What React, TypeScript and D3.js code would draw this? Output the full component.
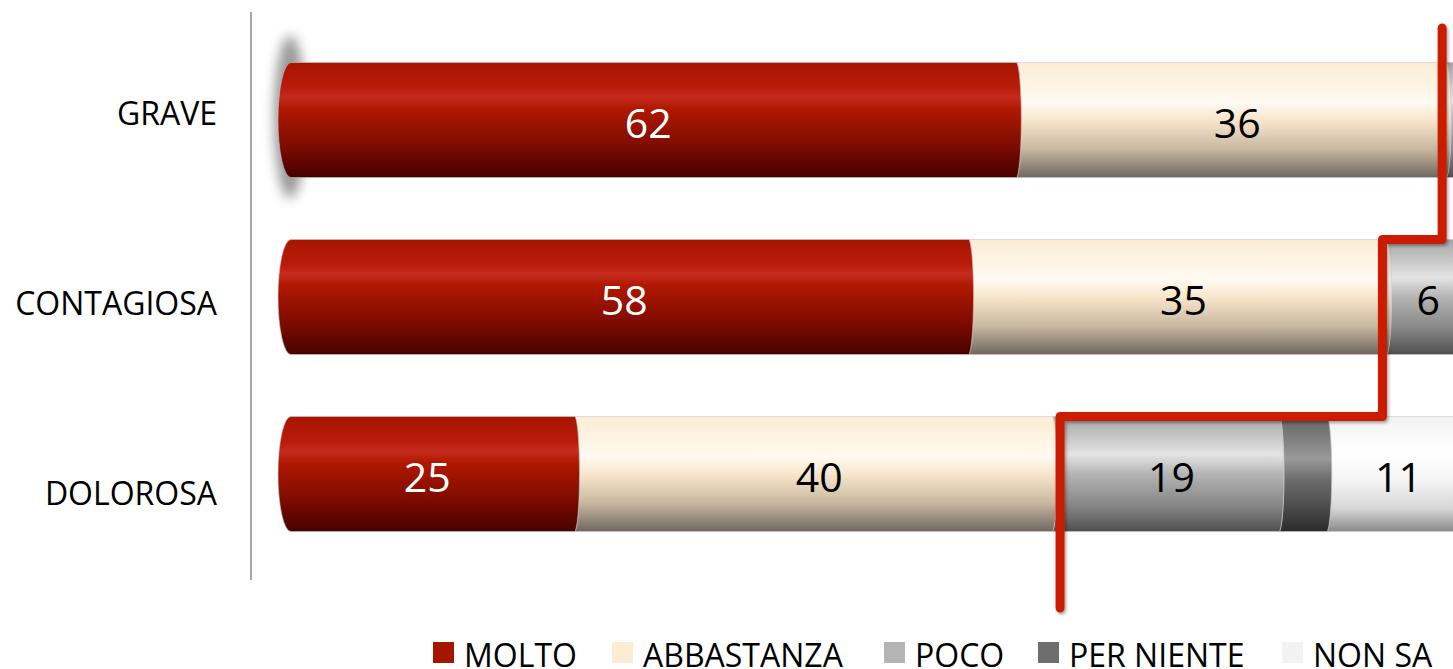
import React from 'react';
import * as d3 from 'd3';

// values (percent)
const categories = ['GRAVE', 'CONTAGIOSA', 'DOLOROSA'];
const molto = [62, 58, 25];
const abbastanza = [36, 35, 40];
const poco = [2, 6, 19];
const perNiente = [0, 1, 4];
const nonSa = [0, 0, 11];
// where the red divider crosses each bar
const dividerAt = [97.5, 92.5, 65.5];

const seriesNames = ['MOLTO', 'ABBASTANZA', 'POCO', 'PER NIENTE', 'NON SA'];
const seriesValues = [molto, abbastanza, poco, perNiente, nonSa];
// the original leaves the PER NIENTE slices unlabelled
const showLabel = [true, true, true, false, true];

const W = 1453;
const H = 669;
const FONT = '"Open Sans", "Noto Sans", sans-serif';

const grads = [
  { id: 'g0', stops: [[0, '#a81500'], [0.22, '#b81c0a'], [0.3, '#c52c1f'], [0.4, '#b01800'], [0.7, '#820c00'], [1, '#460200']] },
  { id: 'g1', stops: [[0, '#fbecd4'], [0.25, '#fff6e8'], [0.35, '#fffaf2'], [0.5, '#f8e6cc'], [0.75, '#c9b8a1'], [1, '#6f675f']] },
  { id: 'g2', stops: [[0, '#a6a6a6'], [0.25, '#d4d4d4'], [0.33, '#e4e4e4'], [0.5, '#b4b4b4'], [0.78, '#858585'], [1, '#4f4f4f']] },
  { id: 'g3', stops: [[0, '#646464'], [0.28, '#8c8c8c'], [0.36, '#9a9a9a'], [0.55, '#6c6c6c'], [0.8, '#4a4a4a'], [1, '#2b2b2b']] },
  { id: 'g4', stops: [[0, '#f2f2f2'], [0.3, '#ffffff'], [0.55, '#f6f6f6'], [0.8, '#d6d6d6'], [1, '#8a8a8a']] },
];
const swatch = ['#a61500', '#fdebd3', '#b4b4b4', '#6e6e6e', '#f2f2f2'];
const labelColor = ['#ffffff', '#000000', '#000000', '#000000', '#000000'];
const legendX = [433, 612, 884, 1038, 1282];

const x = d3.scaleLinear().domain([0, 100]).range([278, 278 + 1194]);
const y = d3
  .scaleBand<string>()
  .domain(categories)
  .range([31.5, 562.5])
  .paddingInner(0.35)
  .paddingOuter(0.175);
const labelY = d3.scalePoint<string>().domain(categories).range([112, 492]);

const CAP = 13; // left end of the cylinder
const RI = 5; // inner joints

function segPath(x0: number, x1: number, top: number, h: number, first: boolean) {
  const ry = h / 2;
  const bottom = top + h;
  const right = x1 - 2;
  const left = first ? x0 + CAP : x0 - 2;
  const p = d3.path();
  p.moveTo(left, top);
  p.lineTo(right, top);
  let s = `${p.toString()} A${RI},${ry} 0 0 1 ${right},${bottom} L${left},${bottom}`;
  s += first ? ` A${CAP},${ry} 0 0 1 ${left},${top} Z` : ` A${RI},${ry} 0 0 0 ${left},${top} Z`;
  return s;
}

export default function App() {
  const bw = y.bandwidth();

  const segments = categories.flatMap((c, ci) => {
    let cum = 0;
    return seriesValues.map((vals, si) => {
      const v = vals[ci];
      const x0 = x(cum);
      cum += v;
      const x1 = x(cum);
      return { c, ci, si, v, x0, x1, first: si === 0 };
    }).filter((d) => d.v > 0);
  });

  const stepPts: [number, number][] = [];
  categories.forEach((c, i) => {
    const xv = x(dividerAt[i]);
    const yTop = i === 0 ? 28 : (y(c) as number);
    stepPts.push([xv, yTop]);
    const yEnd = i < categories.length - 1 ? (y(categories[i + 1]) as number) : 608;
    stepPts.push([xv, yEnd]);
  });
  const line = d3.line();

  return (
    <div style={{ position: 'fixed', left: 0, top: 0 }}>
      <svg width={W} height={H} style={{ display: 'block', background: '#fff' }}>
        <defs>
          {grads.map((g) => (
            <linearGradient key={g.id} id={g.id} x1="0" y1="0" x2="0" y2="1">
              {g.stops.map(([o, col], k) => (
                <stop key={k} offset={o as number} stopColor={col as string} />
              ))}
            </linearGradient>
          ))}
          <filter id="blur" x="-100%" y="-50%" width="300%" height="200%">
            <feGaussianBlur stdDeviation="6" />
          </filter>
          <filter id="lshadow" x="-10%" y="-10%" width="120%" height="120%">
            <feDropShadow dx="1.5" dy="2" stdDeviation="1.5" floodColor="#000" floodOpacity="0.35" />
          </filter>
        </defs>

        {/* axis line */}
        <line x1={251} x2={251} y1={12} y2={580} stroke="#a6a6a6" strokeWidth={2} />

        {/* glow behind first bar cap */}
        <ellipse
          cx={x(0) + 12}
          cy={(y(categories[0]) as number) + bw / 2 - 3}
          rx={16}
          ry={bw / 2 + 24}
          fill="#808080"
          opacity={0.8}
          filter="url(#blur)"
        />

        {categories.map((c) => (
          <text
            key={c}
            x={217}
            y={labelY(c)}
            textAnchor="end"
            dominantBaseline="central"
            fontFamily={FONT}
            fontSize={32}
            fill="#000"
          >
            {c}
          </text>
        ))}

        {segments
          .slice()
          .reverse()
          .map((d) => (
            <path
              key={`${d.c}-${d.si}`}
              d={segPath(d.x0, d.x1, y(d.c) as number, bw, d.first)}
              fill={`url(#g${d.si})`}
              stroke="#c8c8c8"
              strokeWidth={0.6}
            />
          ))}

        {segments
          .filter((d) => showLabel[d.si])
          .map((d) => (
            <text
              key={`t-${d.c}-${d.si}`}
              x={(d.x0 + d.x1) / 2 + (d.first ? 0 : 4)}
              y={(y(d.c) as number) + bw / 2 + 2}
              textAnchor="middle"
              dominantBaseline="central"
              fontFamily={FONT}
              fontSize={41}
              fill={labelColor[d.si]}
            >
              {d.v}
            </text>
          ))}

        <path
          d={line(stepPts) || ''}
          fill="none"
          stroke="#cc1e00"
          strokeWidth={9}
          strokeLinejoin="round"
          strokeLinecap="round"
          filter="url(#lshadow)"
        />

        {seriesNames.map((n, i) => (
          <g key={n} transform={`translate(${legendX[i]},642)`}>
            <rect width={21} height={21} fill={swatch[i]} />
            <text x={31} y={25} fontFamily={FONT} fontSize={32} fill="#000">
              {n}
            </text>
          </g>
        ))}
      </svg>
    </div>
  );
}
